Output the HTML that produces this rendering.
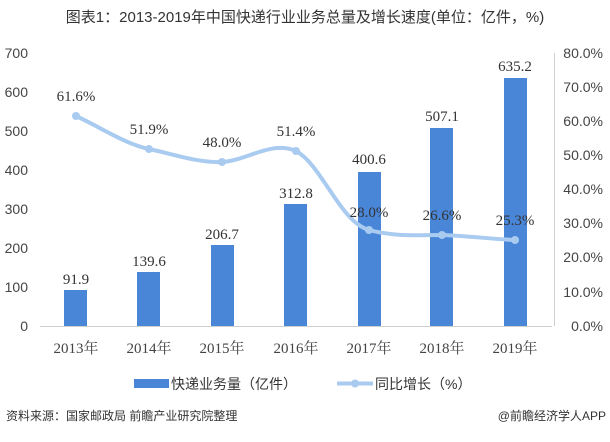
<!DOCTYPE html>
<html><head><meta charset="utf-8"><style>
body{margin:0;background:#fff}
text{font-family:"Liberation Sans","Noto Sans CJK SC",sans-serif}
.s text{font-family:"Liberation Serif","Noto Serif CJK SC",serif}
</style></head><body>
<svg width="610" height="437" xmlns="http://www.w3.org/2000/svg">
<text x="305" y="22" text-anchor="middle" font-size="15" fill="#333">图表1：2013-2019年中国快递行业业务总量及增长速度(单位：亿件，%)</text>
<g font-size="14" fill="#444">
<text x="28" y="58" text-anchor="end">700</text>
<text x="28" y="97" text-anchor="end">600</text>
<text x="28" y="136" text-anchor="end">500</text>
<text x="28" y="175" text-anchor="end">400</text>
<text x="28" y="214" text-anchor="end">300</text>
<text x="28" y="253" text-anchor="end">200</text>
<text x="28" y="292" text-anchor="end">100</text>
<text x="28" y="331" text-anchor="end">0</text>
</g>
<g font-size="14" fill="#444">
<text x="603" y="58" text-anchor="end">80.0%</text>
<text x="603" y="92" text-anchor="end">70.0%</text>
<text x="603" y="126" text-anchor="end">60.0%</text>
<text x="603" y="160" text-anchor="end">50.0%</text>
<text x="603" y="194" text-anchor="end">40.0%</text>
<text x="603" y="228" text-anchor="end">30.0%</text>
<text x="603" y="262" text-anchor="end">20.0%</text>
<text x="603" y="297" text-anchor="end">10.0%</text>
<text x="603" y="331" text-anchor="end">0.0%</text>
</g>
<line x1="40" y1="326.5" x2="552" y2="326.5" stroke="#d0d0d0"/>
<line x1="554.5" y1="53" x2="554.5" y2="326" stroke="#d0d0d0"/>
<g fill="#4a86d8">
<rect x="64" y="290" width="23" height="36"/>
<rect x="137" y="272" width="23" height="54"/>
<rect x="211" y="245" width="23" height="81"/>
<rect x="284" y="204" width="23" height="122"/>
<rect x="358" y="172" width="23" height="154"/>
<rect x="430" y="128" width="23" height="198"/>
<rect x="504" y="78" width="23" height="248"/>
</g>
<g class="s" font-size="15" fill="#333" text-anchor="middle">
<text x="76" y="284">91.9</text>
<text x="149" y="266">139.6</text>
<text x="222" y="239">206.7</text>
<text x="296" y="198">312.8</text>
<text x="369" y="164">400.6</text>
<text x="442" y="121">507.1</text>
<text x="515" y="71">635.2</text>
</g>
<path d="M76,116 C100,127 125,144 149,149 C173,154 198,163 222,162 C246,161 272,140 296,151 C322,165 340,222 369,230 C395,237 418,235 442,235 C468,236 492,239 515,240" fill="none" stroke="#aacbf0" stroke-width="4"/>
<g fill="#aacbf0">
<circle cx="76" cy="116" r="4"/><circle cx="149" cy="149" r="4"/><circle cx="222" cy="162" r="4"/><circle cx="296" cy="151" r="4"/><circle cx="369" cy="230" r="4"/><circle cx="442" cy="235" r="4"/><circle cx="515" cy="240" r="4"/>
</g>
<g class="s" font-size="15" fill="#333" text-anchor="middle">
<text x="76" y="101">61.6%</text>
<text x="149" y="134">51.9%</text>
<text x="222" y="147">48.0%</text>
<text x="296" y="136">51.4%</text>
<text x="369" y="217">28.0%</text>
<text x="442" y="220">26.6%</text>
<text x="515" y="225">25.3%</text>
</g>
<g class="s" font-size="15" fill="#444" text-anchor="middle">
<text x="76" y="353">2013年</text>
<text x="149" y="353">2014年</text>
<text x="222" y="353">2015年</text>
<text x="296" y="353">2016年</text>
<text x="369" y="353">2017年</text>
<text x="442" y="353">2018年</text>
<text x="515" y="353">2019年</text>
</g>
<rect x="134" y="379" width="35" height="9" fill="#4a86d8"/>
<text x="171" y="389" font-size="14" fill="#333">快递业务量（亿件）</text>
<line x1="337" y1="383.5" x2="373" y2="383.5" stroke="#aacbf0" stroke-width="4"/>
<circle cx="355" cy="383.5" r="4" fill="#aacbf0"/>
<text x="375" y="389" font-size="14" fill="#333">同比增长（%）</text>
<text x="6" y="420" font-size="12" fill="#333">资料来源：国家邮政局 前瞻产业研究院整理</text>
<text x="606" y="420" font-size="12" fill="#333" text-anchor="end">@前瞻经济学人APP</text>
</svg>
</body></html>
